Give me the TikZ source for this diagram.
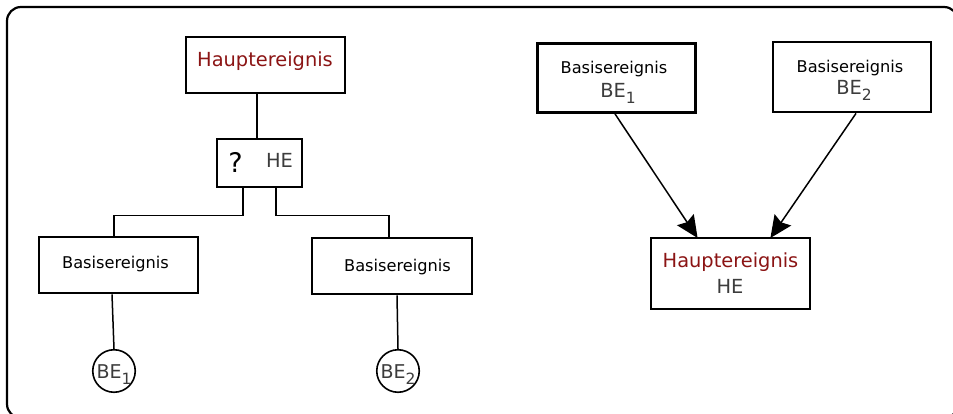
\documentclass[tikz,border=0pt]{standalone}
\usepackage{fontspec}
\setmainfont{DejaVu Sans}
\usetikzlibrary{arrows.meta}
\definecolor{evred}{HTML}{8B1414}
\definecolor{evgray}{HTML}{3C3C3C}
% lowered index digit for event names
\newcommand\evsub[1]{\raisebox{-6pt}{\fontsize{15.5}{15.5}\selectfont #1}}
\begin{document}
\begin{tikzpicture}[x=1pt,y=-1pt,
  box/.style={draw, line width=2.8pt, inner sep=0pt},
  thinbox/.style={draw, line width=2pt, inner sep=0pt},
  circ/.style={draw, circle, line width=1.6pt, inner sep=0pt, minimum size=42.5pt,
               text=evgray, font=\fontsize{19}{19}\selectfont, text height=14pt, text depth=0pt},
  wire/.style={line width=1.5pt},
  arrow/.style={line width=1.5pt, -{Stealth[length=22pt,width=20pt,inset=3pt]}},
  redtxt/.style={text=evred, font=\fontsize{19.4}{20}\selectfont, inner sep=0pt, anchor=base},
  basetxt/.style={text=black, font=\fontsize{16.2}{17}\selectfont, inner sep=0pt, anchor=base},
  graytxt/.style={text=evgray, font=\fontsize{19.4}{20}\selectfont, inner sep=0pt, anchor=base}]
\useasboundingbox (0,0) rectangle (953,414);

% outer frame, running past the right and bottom edges
\begin{scope}
  \clip (0,0) rectangle (953,414);
  \draw[line width=2.2pt, rounded corners=14pt] (7,7) rectangle (958,418);
\end{scope}

% ---------- fault tree (left) ----------
\node[box, minimum width=159pt, minimum height=56pt] (top) at (265.5,65) {};
\node[redtxt] (toptxt) at (265,67) {Hauptereignis};

\node[thinbox, minimum width=85pt, minimum height=48pt] (q) at (259.5,163) {};
\node[inner sep=0pt, anchor=base, font=\fontsize{27}{27}\selectfont] (qmark) at (235.5,173) {?};
\node[graytxt] (qhe) at (279.5,168) {HE};

\node[box, minimum width=159pt, minimum height=56pt] (bl) at (118.5,265) {};
\node[basetxt] (bltxt) at (115.5,268) {Basisereignis};

\node[box, minimum width=160pt, minimum height=56pt] (br) at (392,266) {};
\node[basetxt] (brtxt) at (397.5,271) {Basisereignis};

\node[circ] (c1) at (114,371) {BE\evsub{1}};
\node[circ] (c2) at (398,371) {BE\evsub{2}};

\draw[wire] ([xshift=-8.5pt]top.south) -- ([xshift=-8.5pt]top.south |- q.north);
\draw[wire] ([xshift=-16.5pt]q.south) |- ([xshift=-4.5pt,yshift=20pt]bl.north) -- ([xshift=-4.5pt]bl.north);
\draw[wire] ([xshift=16.5pt]q.south) |- ([xshift=-3pt,yshift=21pt]br.north) -- ([xshift=-3pt]br.north);
\draw[wire] ([xshift=-6.5pt]bl.south) -- (c1.north);
\draw[wire] ([xshift=5pt]br.south) -- (c2.north);

% ---------- cause graph (right) ----------
\node[box, minimum width=158pt, minimum height=69pt] (r1) at (616.5,78) {};
\node[basetxt] (r1a) at (614,74) {Basisereignis};
\node[graytxt] (r1b) at (618,98) {BE\evsub{1}};

\node[box, minimum width=158pt, minimum height=70pt] (r2) at (852,77) {};
\node[basetxt] (r2a) at (850,73) {Basisereignis};
\node[graytxt] (r2b) at (854,95) {BE\evsub{2}};

\node[box, minimum width=159pt, minimum height=71pt] (rh) at (730.5,273.5) {};
\node[redtxt] (rha) at (730.5,267) {Hauptereignis};
\node[graytxt] (rhb) at (730,293) {HE};

\draw[arrow] ([xshift=-1.5pt]r1.south) -- ([xshift=48pt,yshift=-1.4pt]rh.north west);
\draw[arrow] ([xshift=4pt]r2.south) -- ([xshift=-41pt,yshift=-1.4pt]rh.north east);
\end{tikzpicture}
\end{document}
